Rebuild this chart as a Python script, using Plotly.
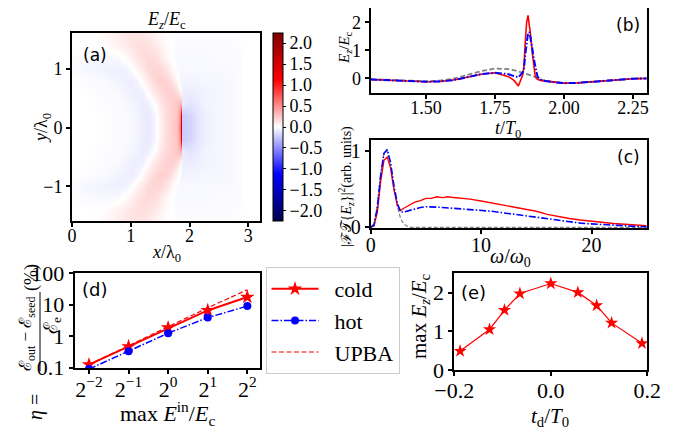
import numpy as np
import plotly.graph_objects as go

OFF = 8  # default page margin of the html body
W, H = 684 - OFF, 431 - OFF
SERIF = "Liberation Serif"
SANS = "DejaVu Sans"

# ---------------- data ----------------
# (a) field map E_z/E_c, rows for y >= 0 (mirror-symmetric in y)
map_x = [0, 0.2, 0.4, 0.6, 0.8, 0.9, 1.0, 1.1, 1.2, 1.3, 1.4, 1.5, 1.6, 1.7,
         1.78, 1.835, 1.855, 1.875, 2.0, 2.1, 2.2, 2.3, 2.5, 2.7, 2.85, 2.9, 3.2]
map_y_half = [0.0, 0.2, 0.4, 0.6, 0.8, 1.0, 1.2, 1.4, 1.6]
map_rows_half = [
    [0, 0, 0, -0.01, -0.02, -0.02, -0.03, -0.05, -0.08, -0.10, -0.05, 0.06, 0.15, 0.21, 0.28, 0.6, 1.55, -0.24, -0.20, -0.14, -0.09, -0.06, -0.04, -0.03, -0.02, 0, 0],
    [0, 0, 0, -0.01, -0.02, -0.02, -0.03, -0.05, -0.08, -0.10, -0.05, 0.06, 0.15, 0.21, 0.27, 0.5, 1.3, -0.22, -0.19, -0.14, -0.09, -0.06, -0.04, -0.03, -0.02, 0, 0],
    [0, 0, -0.01, -0.01, -0.02, -0.03, -0.04, -0.06, -0.09, -0.07, 0.0, 0.10, 0.17, 0.21, 0.25, 0.32, 0.35, -0.10, -0.12, -0.10, -0.07, -0.05, -0.04, -0.03, -0.02, 0, 0],
    [0, 0, -0.01, -0.02, -0.03, -0.05, -0.07, -0.08, -0.06, 0.02, 0.10, 0.16, 0.20, 0.21, 0.16, 0.05, -0.03, -0.07, -0.08, -0.07, -0.06, -0.05, -0.04, -0.03, -0.02, 0, 0],
    [0, -0.01, -0.02, -0.03, -0.05, -0.07, -0.08, -0.05, 0.03, 0.10, 0.17, 0.21, 0.20, 0.13, 0.03, -0.03, -0.05, -0.05, -0.05, -0.05, -0.04, -0.04, -0.04, -0.03, -0.02, 0, 0],
    [-0.02, -0.04, -0.05, -0.06, -0.07, -0.06, -0.02, 0.05, 0.11, 0.16, 0.19, 0.18, 0.12, 0.03, -0.02, -0.03, -0.03, -0.03, -0.03, -0.03, -0.03, -0.03, -0.03, -0.03, -0.02, 0, 0],
    [-0.01, -0.02, -0.03, -0.03, -0.02, 0.02, 0.06, 0.11, 0.15, 0.17, 0.15, 0.10, 0.04, -0.01, -0.03, -0.03, -0.03, -0.03, -0.03, -0.03, -0.03, -0.03, -0.02, -0.02, -0.02, 0, 0],
    [0, 0, 0, 0.02, 0.06, 0.09, 0.12, 0.14, 0.15, 0.13, 0.10, 0.06, 0.02, 0, -0.02, -0.02, -0.02, -0.02, -0.02, -0.02, -0.02, -0.02, -0.02, -0.02, -0.01, 0, 0],
    [0, 0, 0.01, 0.04, 0.09, 0.11, 0.12, 0.12, 0.11, 0.09, 0.06, 0.03, 0.01, 0, -0.01, -0.01, -0.01, -0.01, -0.01, -0.01, -0.01, -0.01, -0.01, -0.01, -0.01, 0, 0],
]
cbar_ticks = [-2.0, -1.5, -1.0, -0.5, 0.0, 0.5, 1.0, 1.5, 2.0]

# (b) time traces
t_vals = [1.30, 1.35, 1.40, 1.45, 1.50, 1.55, 1.60, 1.65, 1.70, 1.75, 1.78, 1.80, 1.82,
          1.835, 1.85, 1.855, 1.86, 1.865, 1.87, 1.875, 1.88, 1.885, 1.89, 1.895, 1.90,
          1.905, 1.92, 1.95, 2.00, 2.05, 2.10, 2.15, 2.20, 2.25, 2.30]
ez_cold = [-0.04, -0.06, -0.08, -0.10, -0.12, -0.11, -0.06, 0.04, 0.15, 0.20, 0.13, 0.06, -0.08,
           -0.27, 0.10, 0.40, 1.30, 2.00, 2.25, 1.95, 1.50, 0.95, 0.45, 0.15, 0.00,
           -0.04, -0.08, -0.12, -0.17, -0.16, -0.12, -0.07, -0.03, -0.01, 0.00]
ez_hot = [-0.04, -0.06, -0.08, -0.10, -0.12, -0.11, -0.06, 0.04, 0.15, 0.20, 0.18, 0.15, 0.08,
          0.04, 0.20, 0.30, 0.85, 1.30, 1.60, 1.65, 1.40, 1.10, 0.75, 0.45, 0.25,
          0.05, -0.07, -0.12, -0.17, -0.16, -0.12, -0.07, -0.03, -0.01, 0.00]
ez_seed = [-0.03, -0.05, -0.07, -0.09, -0.10, -0.08, -0.01, 0.12, 0.26, 0.35, 0.35, 0.33, 0.29,
           0.25, 0.21, 0.20, 0.18, 0.17, 0.15, 0.13, 0.11, 0.09, 0.07, 0.05, 0.03,
           0.01, -0.05, -0.11, -0.17, -0.16, -0.12, -0.07, -0.03, -0.01, 0.00]

# (c) spectra
w_vals = [0, 0.3, 0.6, 0.9, 1.2, 1.5, 1.8, 2.1, 2.4, 2.7, 3.0, 3.5, 4, 4.5, 5, 5.5, 6, 6.5,
          7, 7.5, 8, 9, 10, 11, 12, 13, 14, 15, 16, 17, 18, 19, 20, 21, 22, 23, 24, 25]
sp_cold = [0, 0.02, 0.2, 0.6, 0.88, 0.92, 0.78, 0.5, 0.3, 0.22, 0.25, 0.29, 0.33, 0.35, 0.38,
           0.38, 0.40, 0.39, 0.40, 0.39, 0.385, 0.37, 0.345, 0.32, 0.295, 0.27, 0.24, 0.21,
           0.17, 0.14, 0.115, 0.095, 0.08, 0.06, 0.05, 0.04, 0.03, 0.02]
sp_hot = [0, 0.03, 0.25, 0.68, 0.97, 1.02, 0.85, 0.55, 0.32, 0.2, 0.2, 0.22, 0.24, 0.26, 0.27,
          0.27, 0.265, 0.26, 0.255, 0.25, 0.245, 0.235, 0.225, 0.21, 0.19, 0.17, 0.15, 0.13,
          0.11, 0.09, 0.07, 0.055, 0.045, 0.035, 0.025, 0.018, 0.012, 0.008]
sp_seed = [0, 0.05, 0.3, 0.7, 0.97, 1.0, 0.8, 0.5, 0.28, 0.12, 0.04, 0.0, 0, 0, 0, 0, 0, 0,
           0, 0, 0, 0, 0, 0, 0, 0, 0, 0, 0, 0, 0, 0, 0, 0, 0, 0, 0, 0]

# (d) efficiency
e_in = [0.25, 0.5, 1, 2, 4]
e_in_labels = ["2<sup>−2</sup>", "2<sup>−1</sup>", "2<sup>0</sup>", "2<sup>1</sup>", "2<sup>2</sup>"]
eta_cold = [0.125, 0.47, 1.86, 6.6, 17.6]
eta_hot = [0.09, 0.33, 1.25, 3.9, 9.1]
eta_upba = [0.125, 0.5, 2.0, 8.0, 30.0]
legend_names = ["cold", "hot", "UPBA"]

# (e) peak field vs delay
td_vals = [-0.188, -0.127, -0.096, -0.064, 0.0, 0.056, 0.095, 0.126, 0.189]
ezmax_vals = [0.49, 1.05, 1.55, 1.98, 2.24, 2.01, 1.67, 1.22, 0.69]

# ---------------- figure ----------------
map_y = [-v for v in map_y_half[::-1]] + map_y_half[1:]
map_z = [map_rows_half[i] for i in range(len(map_y_half) - 1, -1, -1)] + map_rows_half[1:]

RED = "#ff0000"
BLUE = "#0000ff"
GRAY = "#808080"
DASHDOT = "7px,2px,1.5px,2px"
PAD = "\u00a0\u00a0"

seismic = [[0.0, "rgb(0,0,77)"], [0.25, "rgb(0,0,255)"], [0.5, "rgb(255,255,255)"],
           [0.75, "rgb(255,0,0)"], [1.0, "rgb(128,0,0)"]]


def px(x):
    return min(max((x - OFF) / W, 0), 1)


def py(y):
    return min(max(1 - (y - OFF) / H, 0), 1)


fig = go.Figure()

fig.add_trace(go.Heatmap(
    x=map_x, y=map_y, z=map_z, zmin=-2.24, zmax=2.24, zsmooth="best",
    colorscale=seismic, xaxis="x", yaxis="y", showscale=True,
    colorbar=dict(x=px(273), xanchor="left", xref="paper", y=py(127), yanchor="middle", yref="paper",
                  len=188 / H, lenmode="fraction", thickness=10, thicknessmode="pixels",
                  outlinewidth=1, outlinecolor="black",
                  tickvals=cbar_ticks, ticktext=[f"{v:.1f}".replace("-", "−") for v in cbar_ticks],
                  ticks="outside", ticklen=3, tickwidth=1, tickcolor="black",
                  tickfont=dict(family=SERIF, size=18, color="black"), xpad=0, ypad=0),
))

# (b)
fig.add_trace(go.Scatter(x=t_vals, y=ez_seed, mode="lines", xaxis="x2", yaxis="y2",
                         line=dict(color=GRAY, width=1.8, dash="5px,2.5px"), showlegend=False))
fig.add_trace(go.Scatter(x=t_vals, y=ez_cold, mode="lines", xaxis="x2", yaxis="y2",
                         line=dict(color=RED, width=1.6), showlegend=False))
fig.add_trace(go.Scatter(x=t_vals, y=ez_hot, mode="lines", xaxis="x2", yaxis="y2",
                         line=dict(color=BLUE, width=2, dash=DASHDOT), showlegend=False))
# (c)
fig.add_trace(go.Scatter(x=w_vals, y=sp_seed, mode="lines", xaxis="x3", yaxis="y3",
                         line=dict(color=GRAY, width=1.2, dash="4px,2px"), showlegend=False))
fig.add_trace(go.Scatter(x=w_vals, y=sp_cold, mode="lines", xaxis="x3", yaxis="y3",
                         line=dict(color=RED, width=1.4), showlegend=False))
fig.add_trace(go.Scatter(x=w_vals, y=sp_hot, mode="lines", xaxis="x3", yaxis="y3",
                         line=dict(color=BLUE, width=1.6, dash=DASHDOT), showlegend=False))
# (d)
fig.add_trace(go.Scatter(x=e_in, y=eta_cold, mode="lines+markers", xaxis="x4", yaxis="y4",
                         name=PAD + legend_names[0], line=dict(color=RED, width=2),
                         marker=dict(symbol="star", size=11, color=RED)))
fig.add_trace(go.Scatter(x=e_in, y=eta_hot, mode="lines+markers", xaxis="x4", yaxis="y4",
                         name=PAD + legend_names[1], line=dict(color=BLUE, width=1.5, dash=DASHDOT),
                         marker=dict(symbol="circle", size=8, color=BLUE)))
fig.add_trace(go.Scatter(x=e_in, y=eta_upba, mode="lines", xaxis="x4", yaxis="y4",
                         name=PAD + legend_names[2], line=dict(color=RED, width=1.2, dash="5px,2.5px")))
# (e)
fig.add_trace(go.Scatter(x=td_vals, y=ezmax_vals, mode="lines+markers", xaxis="x5", yaxis="y5",
                         line=dict(color=RED, width=1.2),
                         marker=dict(symbol="star", size=10, color=RED), showlegend=False))


def tf(size):
    return dict(family=SERIF, size=size, color="black")


axbase = dict(showline=True, linecolor="black", linewidth=2, mirror=True, ticks="outside",
              ticklen=4, tickwidth=1.5, tickcolor="black", showgrid=False, zeroline=False,
              fixedrange=True, automargin=False)

fig.update_layout(
    template="none",
    width=W, height=H, margin=dict(l=0, r=0, t=0, b=0, pad=0, autoexpand=False),
    font=dict(family=SERIF, size=18, color="black"),
    paper_bgcolor="white", plot_bgcolor="white",
    xaxis=dict(axbase, domain=[px(72), px(260)], range=[0, 3.2], tickvals=[0, 1, 2, 3],
               tickfont=tf(18), ticklabelstandoff=-7, anchor="y"),
    yaxis=dict(axbase, domain=[py(221), py(33)], range=[-1.59, 1.61], tickvals=[-1, 0, 1],
               tickfont=tf(18), anchor="x"),
    xaxis2=dict(axbase, domain=[px(370.7), px(646.7)], range=[1.3, 2.3], tickfont=tf(18),
                ticklabelstandoff=-6,
                tickvals=[1.5, 1.75, 2.0, 2.25], ticktext=["1.50", "1.75", "2.00", "2.25"], anchor="y2"),
    yaxis2=dict(axbase, domain=[py(92.7), py(8)], range=[-0.51, 2.51], tickvals=[0, 1, 2],
                tickfont=tf(18), anchor="x2"),
    xaxis3=dict(axbase, domain=[px(370.7), px(646.7)], range=[0, 25], tickvals=[0, 10, 20],
                tickfont=tf(20), ticklabelstandoff=-6, anchor="y3"),
    yaxis3=dict(axbase, domain=[py(228.3), py(140)], range=[-0.013, 1.145], tickvals=[0, 1],
                tickfont=tf(20), anchor="x3"),
    xaxis4=dict(axbase, type="log", domain=[px(74.7), px(260)],
                range=[np.log10(2 ** -2.36), np.log10(2 ** 2.32)], tickfont=tf(22),
                ticklabelstandoff=-4, tickvals=e_in, ticktext=e_in_labels, anchor="y4"),
    yaxis4=dict(axbase, type="log", domain=[py(368.3), py(273.3)], range=[-1.02, 2.0],
                tickfont=tf(22), tickvals=[0.1, 1, 10, 100], ticktext=["0.1", "1", "10", "100"],
                anchor="x4"),
    xaxis5=dict(axbase, domain=[px(454.3), px(647.3)], range=[-0.2, 0.2], tickfont=tf(22),
                ticklabelstandoff=-4,
                tickvals=[-0.2, 0, 0.2], ticktext=["−0.2", "0.0", "0.2"], anchor="y5"),
    yaxis5=dict(axbase, domain=[py(370), py(272.7)], range=[0, 2.52], tickvals=[0, 1, 2],
                tickfont=tf(22), anchor="x5"),
    legend=dict(x=px(265.5), y=py(267), xanchor="left", yanchor="top",
                bgcolor="white", bordercolor="#cccccc", borderwidth=1, itemwidth=47,
                font=dict(family=SERIF, size=22, color="black"), tracegroupgap=0),
    showlegend=True,
)

ann = []


def label(text, x, y, size=18, angle=0, family=SERIF):
    ann.append(dict(text=text, x=px(x), y=py(y), xref="paper", yref="paper",
                    showarrow=False, xanchor="center", yanchor="middle", textangle=angle,
                    font=dict(family=family, size=size, color="black")))


# panel tags
label("(a)", 95, 55, 17, family=SANS)
label("(b)", 628, 25, 17, family=SANS)
label("(c)", 628, 157, 17, family=SANS)
label("(d)", 94, 289, 18, family=SANS)
label("(e)", 473, 292, 18, family=SANS)

# axis titles
label("<i>E<sub>z</sub></i>/<i>E</i><sub>c</sub>", 166, 20)
label("<i>x</i>/λ<sub>0</sub>", 166, 254)
label("<i>y</i>/λ<sub>0</sub>", 43, 128, angle=-90)
label("<i>E<sub>z</sub></i>/<i>E</i><sub>c</sub>", 345, 48, size=15, angle=-90)
label("<i>t</i>/<i>T</i><sub>0</sub>", 508, 129)
label("|ℱ𝒯{<i>E<sub>z</sub></i>}|<sup>2</sup>(arb. units)", 346, 187, size=14, angle=-90)
label("<i>ω</i>/<i>ω</i><sub>0</sub>", 510, 258, size=20)
label("max <i>E</i><sup>in</sup>/<i>E</i><sub>c</sub>", 167, 413, size=22)
label("max <i>E<sub>z</sub></i>/<i>E</i><sub>c</sub>", 420, 316, size=21, angle=-90)
label("<i>t</i><sub>d</sub>/<i>T</i><sub>0</sub>", 550, 417, size=21)

# eta label built as a rotated fraction
label("(%)", 31, 278, size=18, angle=-90)
label("ℰ<sub>out</sub> − ℰ<sub>seed</sub>", 27, 334, size=17, angle=-90)
label("ℰ<sub>e</sub>", 52, 326, size=19, angle=-90)
label("<i>η</i> =", 35, 407, size=20, angle=-90)

fig.update_layout(annotations=ann,
                  shapes=[dict(type="line", xref="paper", yref="paper",
                               x0=px(40), x1=px(40), y0=py(292), y1=py(371),
                               line=dict(color="black", width=1))])

fig.write_html("out.html")
